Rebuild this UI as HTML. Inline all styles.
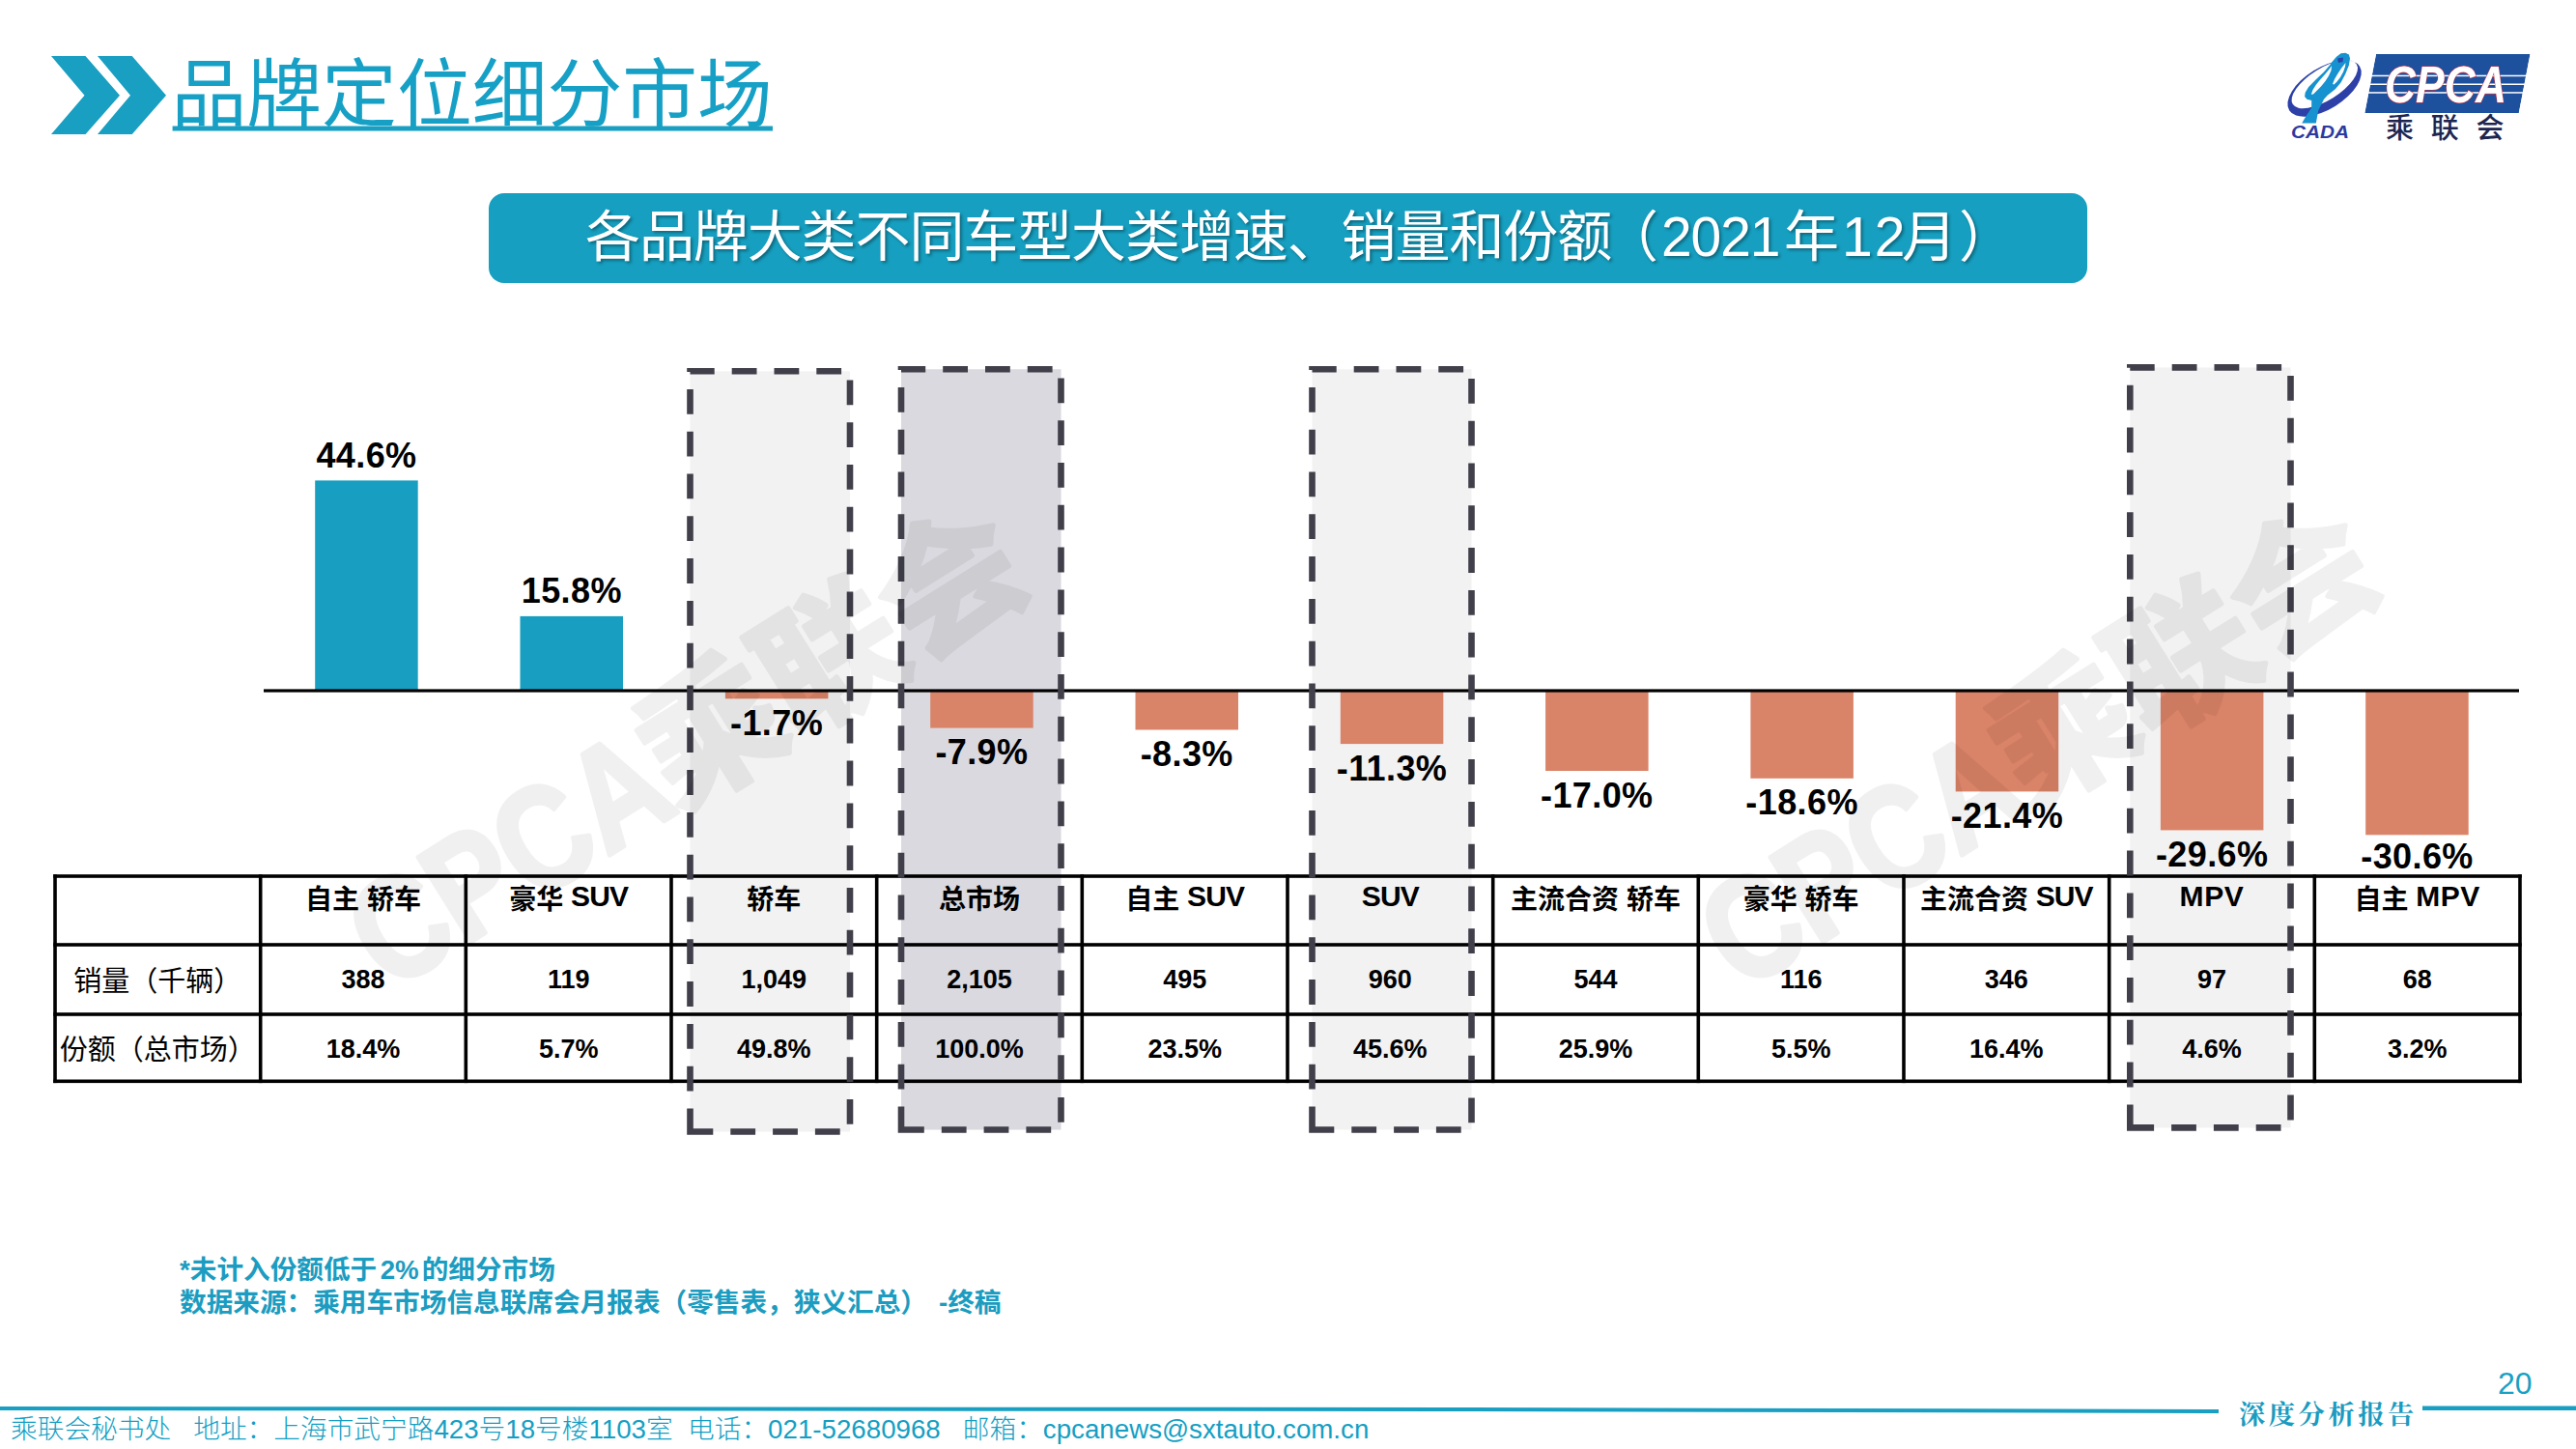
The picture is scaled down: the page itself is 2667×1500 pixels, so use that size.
<!DOCTYPE html>
<html><head><meta charset="utf-8">
<style>
html,body{margin:0;padding:0;background:#fff;}
body{width:2667px;height:1500px;position:relative;overflow:hidden;}
.bl{font-family:"Liberation Sans","Noto Sans CJK SC",sans-serif;font-weight:700;font-size:36px;letter-spacing:0.4px;text-anchor:middle;fill:#000;}
.th{font-family:"Liberation Sans","Noto Sans CJK SC",sans-serif;font-weight:700;font-size:28px;text-anchor:middle;fill:#000;}
.tn{font-family:"Liberation Sans","Noto Sans CJK SC",sans-serif;font-weight:700;font-size:27px;text-anchor:middle;fill:#000;}
.tl{font-family:"Liberation Sans","Noto Sans CJK SC",sans-serif;font-weight:400;font-size:29px;text-anchor:middle;fill:#000;}
.wm{font-family:"Liberation Sans","Noto Sans CJK SC",sans-serif;font-weight:700;font-size:150px;fill:#000;stroke:#000;stroke-width:5px;stroke-linejoin:round;}
.title{font-family:"Liberation Sans","Noto Sans CJK SC",sans-serif;font-weight:400;font-size:77.8px;fill:#17a0c6;}
.ban{font-family:"Liberation Sans","Noto Sans CJK SC",sans-serif;font-weight:400;font-size:57px;letter-spacing:-1.1px;fill:#fff;filter:drop-shadow(2px 2px 1.5px rgba(0,0,0,0.35));}
.fn{font-family:"Liberation Sans","Noto Sans CJK SC",sans-serif;font-weight:700;font-size:27.65px;fill:#1b9cc0;}
.ft{font-family:"Liberation Sans","Noto Sans CJK SC",sans-serif;font-weight:300;font-size:27.7px;fill:#149fc4;}
.ftr{font-family:"Noto Serif CJK SC",serif;font-weight:700;font-size:27.3px;letter-spacing:3.5px;fill:#1a9bbf;}
.pg{font-family:"Liberation Sans","Noto Sans CJK SC",sans-serif;font-weight:300;font-size:32px;fill:#1aa0c4;}
.cpca{font-family:"Liberation Sans",sans-serif;font-weight:700;font-style:italic;font-size:53px;fill:#fff;stroke:#e8303a;stroke-width:1.1px;paint-order:stroke;}
.clh{font-family:"Liberation Sans","Noto Sans CJK SC",sans-serif;font-weight:500;font-size:29px;letter-spacing:17.8px;fill:#1e2650;}
.cada{font-family:"Liberation Sans",sans-serif;font-weight:700;font-style:italic;font-size:17.5px;fill:#2c3aa0;}
.t{position:absolute;white-space:nowrap;}
</style></head><body>
<svg width="2667" height="1500" viewBox="0 0 2667 1500" style="position:absolute;left:0;top:0"><rect x="714.5" y="384.3" width="165.5" height="787.2" fill="#f2f2f2"/><rect x="933.0" y="382.3" width="165.5" height="787.2" fill="#d9d9df"/><rect x="1358.5" y="382.3" width="165.0" height="787.2" fill="#f2f2f2"/><rect x="2205.3" y="380.4" width="166.2" height="787.0" fill="#f2f2f2"/><rect x="326.2" y="497.4" width="106.5" height="217.6" fill="#179ec0"/><rect x="538.5" y="637.9" width="106.5" height="77.1" fill="#179ec0"/><rect x="750.9" y="715.0" width="106.5" height="8.3" fill="#d98368"/><rect x="963.2" y="715.0" width="106.5" height="38.6" fill="#d98368"/><rect x="1175.5" y="715.0" width="106.5" height="40.5" fill="#d98368"/><rect x="1387.8" y="715.0" width="106.5" height="55.1" fill="#d98368"/><rect x="1600.1" y="715.0" width="106.5" height="83.0" fill="#d98368"/><rect x="1812.4" y="715.0" width="106.5" height="90.8" fill="#d98368"/><rect x="2024.7" y="715.0" width="106.5" height="104.4" fill="#d98368"/><rect x="2236.9" y="715.0" width="106.5" height="144.4" fill="#d98368"/><rect x="2449.2" y="715.0" width="106.5" height="149.3" fill="#d98368"/><rect x="273" y="713.4" width="2335" height="3.2" fill="#000"/><text x="379.5" y="483.9" class="bl">44.6%</text><text x="591.8" y="624.4" class="bl">15.8%</text><text x="804.1" y="760.8" class="bl">-1.7%</text><text x="1016.4" y="791.1" class="bl">-7.9%</text><text x="1228.7" y="793.0" class="bl">-8.3%</text><text x="1441.0" y="807.6" class="bl">-11.3%</text><text x="1653.3" y="835.5" class="bl">-17.0%</text><text x="1865.6" y="843.3" class="bl">-18.6%</text><text x="2077.9" y="856.9" class="bl">-21.4%</text><text x="2290.2" y="896.9" class="bl">-29.6%</text><text x="2502.5" y="898.8" class="bl">-30.6%</text><rect x="55.2" y="905.2" width="2555.6" height="3.6" fill="#000"/><rect x="55.2" y="976.2" width="2555.6" height="3.6" fill="#000"/><rect x="55.2" y="1048.2" width="2555.6" height="3.6" fill="#000"/><rect x="55.2" y="1117.5" width="2555.6" height="3.6" fill="#000"/><rect x="55.2" y="905.2" width="3.6" height="215.9" fill="#000"/><rect x="267.9" y="905.2" width="3.6" height="215.9" fill="#000"/><rect x="480.5" y="905.2" width="3.6" height="215.9" fill="#000"/><rect x="693.2" y="905.2" width="3.6" height="215.9" fill="#000"/><rect x="905.9" y="905.2" width="3.6" height="215.9" fill="#000"/><rect x="1118.5" y="905.2" width="3.6" height="215.9" fill="#000"/><rect x="1331.2" y="905.2" width="3.6" height="215.9" fill="#000"/><rect x="1543.9" y="905.2" width="3.6" height="215.9" fill="#000"/><rect x="1756.5" y="905.2" width="3.6" height="215.9" fill="#000"/><rect x="1969.2" y="905.2" width="3.6" height="215.9" fill="#000"/><rect x="2181.9" y="905.2" width="3.6" height="215.9" fill="#000"/><rect x="2394.5" y="905.2" width="3.6" height="215.9" fill="#000"/><rect x="2607.2" y="905.2" width="3.6" height="215.9" fill="#000"/><text x="163.3" y="1025.5" class="tl">销量（千辆）</text><text x="163.3" y="1096.5" class="tl">份额（总市场）</text><text x="376.0" y="940.5" class="th">自主 轿车</text><text x="376.0" y="1023" class="tn">388</text><text x="376.0" y="1095" class="tn">18.4%</text><text x="588.7" y="940.5" class="th">豪华 <tspan dy="-2.2" style="font-size:30px;letter-spacing:-0.9px">SUV</tspan></text><text x="588.7" y="1023" class="tn">119</text><text x="588.7" y="1095" class="tn">5.7%</text><text x="801.3" y="940.5" class="th">轿车</text><text x="801.3" y="1023" class="tn">1,049</text><text x="801.3" y="1095" class="tn">49.8%</text><text x="1014.0" y="940.5" class="th">总市场</text><text x="1014.0" y="1023" class="tn">2,105</text><text x="1014.0" y="1095" class="tn">100.0%</text><text x="1226.7" y="940.5" class="th">自主 <tspan dy="-2.2" style="font-size:30px;letter-spacing:-0.9px">SUV</tspan></text><text x="1226.7" y="1023" class="tn">495</text><text x="1226.7" y="1095" class="tn">23.5%</text><text x="1439.3" y="940.5" class="th"><tspan dy="-2.2" style="font-size:30px;letter-spacing:-0.9px">SUV</tspan></text><text x="1439.3" y="1023" class="tn">960</text><text x="1439.3" y="1095" class="tn">45.6%</text><text x="1652.0" y="940.5" class="th">主流合资 轿车</text><text x="1652.0" y="1023" class="tn">544</text><text x="1652.0" y="1095" class="tn">25.9%</text><text x="1864.7" y="940.5" class="th">豪华 轿车</text><text x="1864.7" y="1023" class="tn">116</text><text x="1864.7" y="1095" class="tn">5.5%</text><text x="2077.3" y="940.5" class="th">主流合资 <tspan dy="-2.2" style="font-size:30px;letter-spacing:-0.9px">SUV</tspan></text><text x="2077.3" y="1023" class="tn">346</text><text x="2077.3" y="1095" class="tn">16.4%</text><text x="2290.0" y="940.5" class="th"><tspan dy="-2.2" style="font-size:30px;letter-spacing:0.6px">MPV</tspan></text><text x="2290.0" y="1023" class="tn">97</text><text x="2290.0" y="1095" class="tn">4.6%</text><text x="2502.7" y="940.5" class="th">自主 <tspan dy="-2.2" style="font-size:30px;letter-spacing:0.6px">MPV</tspan></text><text x="2502.7" y="1023" class="tn">68</text><text x="2502.7" y="1095" class="tn">3.2%</text><path d="M714.5,1171.5 L714.5,384.3 L880.0,384.3 L880.0,1171.5 Z" fill="none" stroke="#403f4a" stroke-width="6.6" stroke-dasharray="25.8 18" stroke-dashoffset="1.8" stroke-linejoin="miter"/><path d="M933.0,1169.5 L933.0,382.3 L1098.5,382.3 L1098.5,1169.5 Z" fill="none" stroke="#403f4a" stroke-width="6.6" stroke-dasharray="25.8 18" stroke-dashoffset="1.8" stroke-linejoin="miter"/><path d="M1358.5,1169.5 L1358.5,382.3 L1523.5,382.3 L1523.5,1169.5 Z" fill="none" stroke="#403f4a" stroke-width="6.6" stroke-dasharray="25.8 18" stroke-dashoffset="1.8" stroke-linejoin="miter"/><path d="M2205.3,1167.4 L2205.3,380.4 L2371.5,380.4 L2371.5,1167.4 Z" fill="none" stroke="#403f4a" stroke-width="6.6" stroke-dasharray="25.8 18" stroke-dashoffset="1.8" stroke-linejoin="miter"/><polygon points="53,58 88.5,58 124,98.8 88.5,139 53,139 87.5,98.8" fill="#189fc2"/><polygon points="101,58 136.7,58 172,98.8 136.7,139 101,139 135,98.8" fill="#189fc2"/><text x="177.5" y="124.5" class="title">品牌定位细分市场</text><rect x="178.6" y="130.5" width="621.4" height="5" fill="#189fc2"/><rect x="506" y="200" width="1655" height="93" rx="16" ry="16" fill="#169fc0"/><text x="606" y="265" class="ban">各品牌大类不同车型大类增速、销量和份额<tspan x="1660">（</tspan><tspan x="1720">2021</tspan><tspan x="1847">年</tspan><tspan x="1907" style="letter-spacing:2px">12</tspan><tspan x="1969">月</tspan><tspan x="2028">）</tspan></text><text x="186" y="1323.5" class="fn">*未计入份额低于<tspan dx="3.5">2%</tspan><tspan dx="3">的细分市场</tspan></text><text x="186" y="1357.5" class="fn">数据来源：乘用车市场信息联席会月报表（零售表，狭义汇总）<tspan x="972">-终稿</tspan></text><path d="M0,1456 L1500,1457 L2297,1459 L2297,1463 L1500,1461 L0,1460 Z" fill="#189fc2"/><path d="M2508,1455.5 L2667,1455.5 L2667,1460 L2508,1460 Z" fill="#189fc2"/><text x="11" y="1489" class="ft">乘联会秘书处&#160;&#160;&#160;地址：上海市武宁路423号18号楼1103室&#160;&#160;电话：021-52680968&#160;&#160;&#160;邮箱：cpcanews@sxtauto.com.cn</text><text x="2318" y="1474" class="ftr">深度分析报告</text><text x="2586" y="1443" class="pg">20</text><g id="logo"><polygon points="2460,56 2619.5,56 2607.8,117 2448.3,117" fill="#1d519e"/><rect x="2452" y="77.7" width="164" height="1.5" fill="#ffffff"/><rect x="2452" y="86.5" width="164" height="1.5" fill="#ffffff"/><rect x="2452" y="95.2" width="164" height="1.5" fill="#ffffff"/><polygon points="2446,56 2460,56 2448.3,117 2434,117" fill="#fff"/><polygon points="2619.5,56 2640,56 2640,117 2607.8,117" fill="#fff"/><text x="2469" y="106" class="cpca" textLength="126" lengthAdjust="spacingAndGlyphs">CPCA</text><text x="2470" y="142.5" class="clh">乘联会</text><path fill-rule="evenodd" fill="#2c40a8" d="M2363.6,91.5 a43,21.5 0 1,0 86,0 a43,21.5 0 1,0 -86,0 Z M2370,88 a39,16.5 0 1,0 78,0 a39,16.5 0 1,0 -78,0 Z" transform="rotate(-32 2406.5 91.5)"/><path fill="#1592cf" d="M2383.2,127.4 L2397.8,127.4 L2400.2,114.5 L2406,102.8 L2409.6,98.7 L2417.8,92.2 L2423.7,85.2 L2428.3,76.4 L2431.9,67.6 L2433,60.6 L2431.9,56.5 L2428.3,54.7 L2423.6,55.3 L2419,58.8 L2414.9,63.5 L2412,67.6 L2406,74.6 L2397.8,82.3 L2390.2,89.9 L2386.7,95.7 L2386.1,99.9 L2388.5,102.8 L2393.2,104 L2393.2,111.6 L2387.3,120.4 Z"/><path fill="#fff" d="M2392.8,97.8 L2394.5,93 L2398,87.5 L2402.5,82 L2407.5,76.5 L2412,71 L2414,68 L2413.5,73 L2411,78.5 L2407.5,84 L2403,89.5 L2398.5,94 L2395,97.5 Z"/><path fill="#fff" d="M2415,87 L2417,82 L2420.5,76 L2424.5,70 L2428.5,65 L2428,69 L2426,74.5 L2423,80 L2419.5,84.5 L2416.5,87.5 Z"/><path fill="#2c40a8" d="M2420,60.5 L2426,59.5 L2425.5,64 L2421,65 Z"/><text x="2372" y="142.5" class="cada" textLength="60" lengthAdjust="spacingAndGlyphs">CADA</text></g><g transform="translate(403.2 1027.5) rotate(-32.0)" class="wm" opacity="0.056"><text x="0" y="0" textLength="356" lengthAdjust="spacingAndGlyphs">CPCA</text><text x="352" y="0" style="font-size:146px">乘联会</text></g><g transform="translate(1803.2 1027.5) rotate(-32.0)" class="wm" opacity="0.056"><text x="0" y="0" textLength="356" lengthAdjust="spacingAndGlyphs">CPCA</text><text x="352" y="0" style="font-size:146px">乘联会</text></g></svg>
</body></html>
